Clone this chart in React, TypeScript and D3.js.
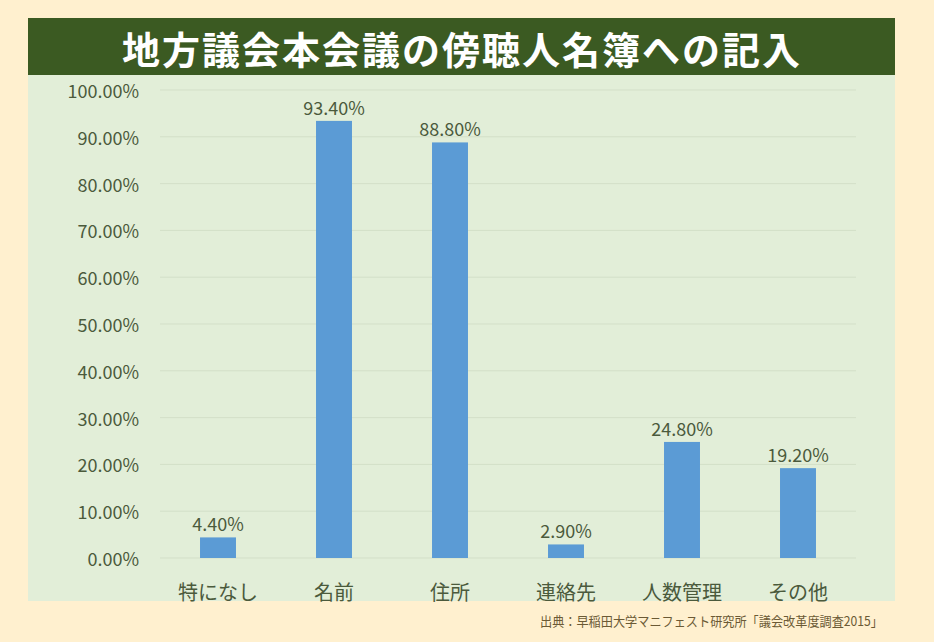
import React from "react";
import * as d3 from "d3";

const categories = ["特になし", "名前", "住所", "連絡先", "人数管理", "その他"];
const values = [4.4, 93.4, 88.8, 2.9, 24.8, 19.2];
const yTicks = [0, 10, 20, 30, 40, 50, 60, 70, 80, 90, 100];
const title = "地方議会本会議の傍聴人名簿への記入";
const source = "出典：早稲田大学マニフェスト研究所「議会改革度調査2015」";

const W = 934;
const H = 642;
const FONT = "'Noto Sans CJK JP', 'Noto Sans', sans-serif";

export default function App() {
  const x = d3.scaleBand<string>().domain(categories).range([160, 856]).paddingInner(0.69).paddingOuter(0.345);
  const y = d3.scaleLinear().domain([0, 100]).range([558, 90]);
  const textColor = "#4b5a3c";

  return (
    <svg width={W} height={H} style={{ position: "absolute", left: 0, top: 0, display: "block" }}>
      <rect x={0} y={0} width={W} height={H} fill="#fff0cf" />
      <rect x={28} y={75} width={867} height={526} fill="#e2eed8" />
      <rect x={28} y={18} width={867} height={57} fill="#3b5a22" />
      <text x={462} y={47} textAnchor="middle" dominantBaseline="central" fill="#ffffff" fontFamily={FONT} fontWeight={700} fontSize={38} letterSpacing={2}>
        {title}
      </text>
      {yTicks.map((t) => (
        <g key={t}>
          <line x1={160} x2={856} y1={y(t)} y2={y(t)} stroke="#d3dfc8" strokeWidth={1} />
          <text x={139} y={y(t)} textAnchor="end" dominantBaseline="central" fill={textColor} fontFamily={FONT} fontSize={18}>
            {t.toFixed(2)}%
          </text>
        </g>
      ))}
      {categories.map((c, i) => (
        <g key={c}>
          <rect x={x(c)!} y={y(values[i])} width={x.bandwidth()} height={y(0) - y(values[i])} fill="#5b9bd5" />
          <text x={x(c)! + x.bandwidth() / 2} y={y(values[i]) - 14} textAnchor="middle" dominantBaseline="central" fill={textColor} fontFamily={FONT} fontSize={18}>
            {values[i].toFixed(2)}%
          </text>
          <text x={x(c)! + x.bandwidth() / 2} y={591} textAnchor="middle" dominantBaseline="central" fill={textColor} fontFamily={FONT} fontSize={20}>
            {c}
          </text>
        </g>
      ))}
      <text x={883} y={620} textAnchor="end" dominantBaseline="central" fill="#6b5a35" fontFamily={FONT} fontSize={13} textLength={343} lengthAdjust="spacingAndGlyphs">
        {source}
      </text>
    </svg>
  );
}
